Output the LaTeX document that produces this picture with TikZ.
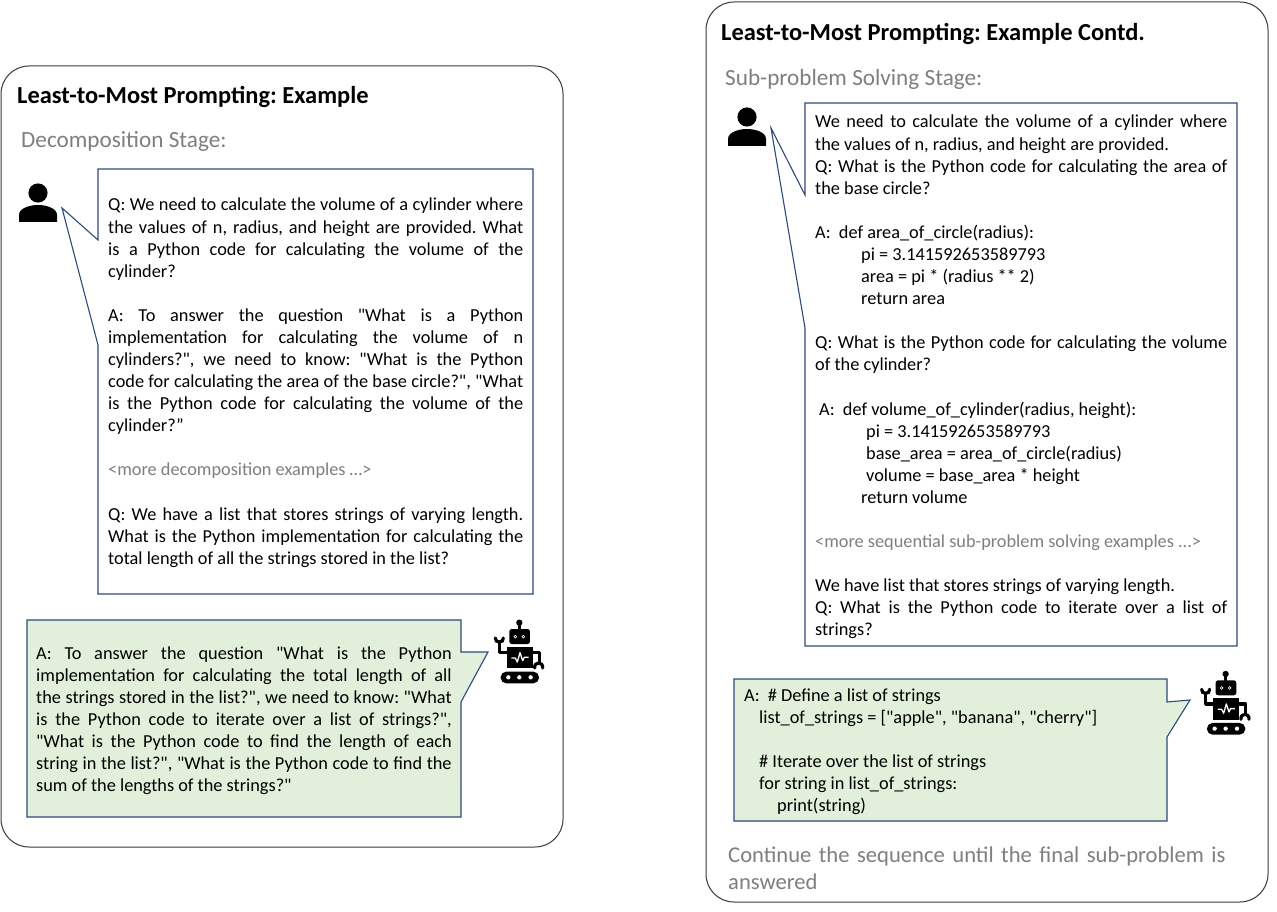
\documentclass[tikz,border=0pt]{standalone}
\usepackage{fontspec}
\setmainfont{Carlito}[Ligatures=TeXOff]
\frenchspacing
\definecolor{callblue}{HTML}{2F4A78}
\definecolor{panelgray}{HTML}{3A3A3A}
\definecolor{stagegray}{HTML}{7F7F7F}
\definecolor{callgreen}{HTML}{E2EFDA}
\newcommand{\bodyfont}{\fontsize{18.3}{22.08}\selectfont}
\newcommand{\lb}{\linebreak}
\newcommand{\bl}{\\\mbox{}\\}
\newcommand{\ind}[1]{\hspace*{#1pt}}
\newcommand{\robotat}[3]{%
  \begin{scope}[shift={(#1,#2)},x=#3pt,y=-#3pt]
    \draw[black,line width=2.6pt,line cap=round,line join=round] (238,68) -- (238,90);
    \fill[black] (238,68) circle[radius=9.5];
    \fill[black,rounded corners=2.5pt] (208,87) rectangle (270,132);
    \fill[white] (226,110) circle[radius=5.5] (250,110) circle[radius=5.5];
    \fill[black] (226,110) circle[radius=2.2] (250,110) circle[radius=2.2];
    \fill[black] (200,140) rectangle (278,205);
    \draw[black,line width=3.2pt,line join=round] (200,158) -- (178,158) -- (178,124);
    \draw[black,line width=3.2pt,line cap=round] (166,114) .. controls (164,130) and (192,130) .. (190,114);
    \draw[black,line width=3.2pt,line join=round] (278,158) -- (298,158) -- (298,190);
    \draw[black,line width=3.2pt,line cap=round] (284,204) .. controls (282,184) and (310,184) .. (308,204);
    \draw[white,line width=1.3pt,line join=round] (214,174) -- (226,174) -- (232,186) -- (240,158) -- (248,182) -- (253,172) -- (266,172);
    \fill[black,rounded corners=5.5pt] (182,215) rectangle (297,250);
    \fill[white] (205,232) circle[radius=6.5] (238,232) circle[radius=6.5] (272,232) circle[radius=6.5];
  \end{scope}}
\newcommand{\personat}[2]{%
  \begin{scope}[shift={(#1,#2)}]
    \fill[black] (0,0) circle[radius=9.6];
    \fill[black] (-19,29) -- (-19,22) .. controls (-19,15) and (-8,12) .. (0,12) .. controls (8,12) and (19,15) .. (19,22) -- (19,29) -- cycle;
  \end{scope}}
\tikzset{
  panel/.style={draw=panelgray,line width=1pt,fill=white,rounded corners=28pt},
  bubble/.style={draw=callblue,line width=1.1pt,line join=miter,fill=white},
  greenbubble/.style={bubble,fill=callgreen},
  titletext/.style={anchor=base west,inner sep=0pt,font=\fontsize{24.45}{28}\selectfont\bfseries,text=black},
  stagetext/.style={anchor=base west,inner sep=0pt,font=\fontsize{23.2}{27}\selectfont,text=stagegray},
  bodytext/.style={anchor=base west,inner sep=0pt,align=justify,font=\bodyfont,text=black},
}
\begin{document}
\begin{tikzpicture}[x=1pt,y=-1pt]
\useasboundingbox (0,0) rectangle (1277,912);
\fill[white] (0,0) rectangle (1277,912);
% panels
\draw[panel] (1,66) rectangle (563,847);
\draw[panel] (706,2) rectangle (1268,902);
\node[titletext] (ltitle) at (17,104) {Least-to-Most Prompting: Example};
\node[stagetext] (lstage) at (21,148) {Decomposition Stage:};
\node[titletext] (rtitle) at (721,40.5) {Least-to-Most Prompting: Example Contd.};
\node[stagetext] (rstage) at (725,86) {Sub-problem Solving Stage:};
% left user bubble
\personat{38}{193}
\draw[bubble] (98,169) -- (533,169) -- (533,594) -- (98,594) -- (98,345) -- (62,208) -- (98,240) -- cycle;
\node[bodytext,text width=415pt] (lq) at (108,211) {\baselineskip=22.15pt
Q: We need to calculate the volume of a cylinder where\lb
the values of n, radius, and height are provided. What\lb
is a Python code for calculating the volume of the\lb
cylinder?\bl
A: To answer the question "What is a Python\lb
implementation for calculating the volume of n\lb
cylinders?", we need to know: "What is the Python\lb
code for calculating the area of the base circle?", "What\lb
is the Python code for calculating the volume of the\lb
cylinder?”\bl
\textcolor{stagegray}{<more decomposition examples …>}\bl
Q: We have a list that stores strings of varying length.\lb
What is the Python implementation for calculating the\lb
total length of all the strings stored in the list?};
% left robot bubble
\draw[greenbubble] (27,620) -- (461,620) -- (461,652) -- (488,652) -- (461,702) -- (461,817) -- (27,817) -- cycle;
\node[bodytext,text width=415.5pt] (la) at (36,659) {%
A: To answer the question "What is the Python\lb
implementation for calculating the total length of all\lb
the strings stored in the list?", we need to know: "What\lb
is the Python code to iterate over a list of strings?",\lb
"What is the Python code to find the length of each\lb
string in the list?", "What is the Python code to find the\lb
sum of the lengths of the strings?"};
\robotat{440}{600}{0.3333}
% right user bubble
\personat{747}{117}
\draw[bubble] (805,103) -- (1237,103) -- (1237,646) -- (805,646) -- (805,328) -- (771,128) -- (805,195) -- cycle;
\node[bodytext,text width=412pt] (rq) at (815,128) {%
We need to calculate the volume of a cylinder where\lb
the values of n, radius, and height are provided.\\
Q: What is the Python code for calculating the area of\lb
the base circle?\bl
A:\ \ def area\_of\_circle(radius):\\
\ind{46}pi = 3.141592653589793\\
\ind{46}area = pi * (radius ** 2)\\
\ind{46}return area\bl
Q: What is the Python code for calculating the volume\lb
of the cylinder?\bl
\ind{4}A:\ \ def volume\_of\_cylinder(radius, height):\\
\ind{51}pi = 3.141592653589793\\
\ind{51}base\_area = area\_of\_circle(radius)\\
\ind{51}volume = base\_area * height\\
\ind{46}return volume\bl
\textcolor{stagegray}{<more sequential sub-problem solving examples ...>}\bl
We have list that stores strings of varying length.\\
Q: What is the Python code to iterate over a list of\lb
strings?};
% right robot bubble
\draw[greenbubble] (734,679) -- (1167,679) -- (1167,702) -- (1190,700) -- (1167,737) -- (1167,821) -- (734,821) -- cycle;
\node[bodytext,text width=415pt] (ra) at (744,701) {%
A:\ \ \# Define a list of strings\\
\ind{15}list\_of\_strings = ["apple", "banana", "cherry"]\bl
\ind{15}\# Iterate over the list of strings\\
\ind{15}for string in list\_of\_strings:\\
\ind{33}print(string)};
\robotat{1146.3}{651.3}{0.3333}
\node[stagetext,text width=530pt,align=left,font=\fontsize{22.6}{27}\selectfont] (rcont) at (728,862.5) {Continue the sequence until the final sub-problem is\\answered};
\end{tikzpicture}
\end{document}
